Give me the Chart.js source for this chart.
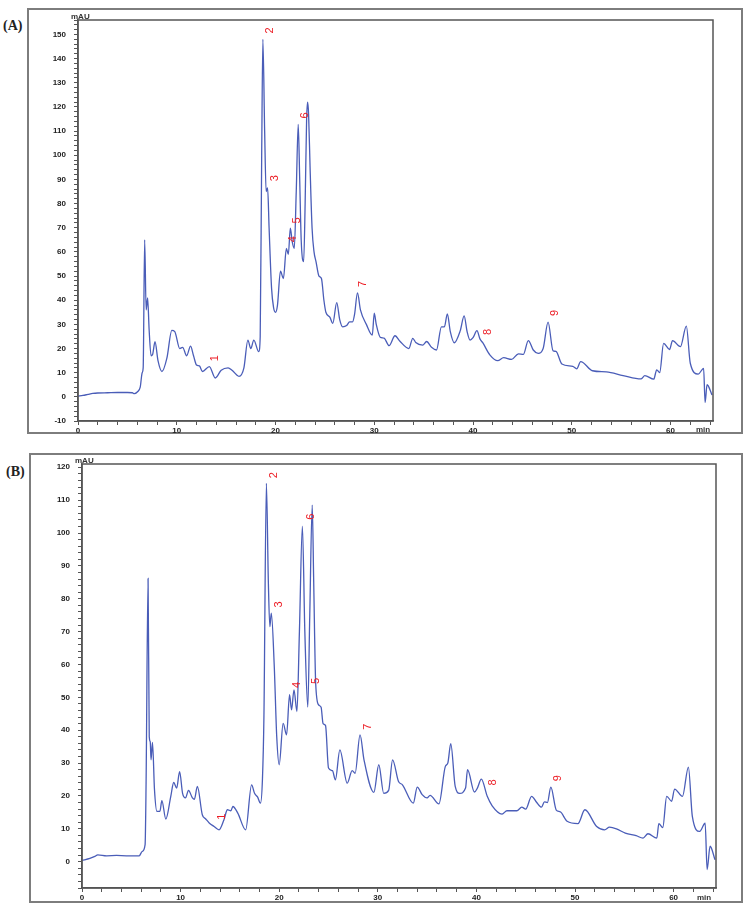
<!DOCTYPE html>
<html><head><meta charset="utf-8">
<script src="https://cdn.jsdelivr.net/npm/chart.js@4.4.1/dist/chart.umd.min.js"></script>
<style>
body{margin:0;background:#fff;width:750px;height:913px;position:relative;overflow:hidden;font-family:"Liberation Sans",Arial,sans-serif;}
.frame{position:absolute;border:2px solid #7d7d7d;box-sizing:border-box;}
.plabel{position:absolute;font-family:"Liberation Serif","DejaVu Serif",serif;font-weight:bold;font-size:14px;color:#222;line-height:14px;}
.unit{position:absolute;font-size:8px;font-weight:bold;color:#333;line-height:8px;}
canvas{position:absolute;left:0;}
</style></head>
<body>
<div class="frame" style="left:27px;top:8px;width:716px;height:426px"></div>
<div class="frame" style="left:29px;top:453px;width:714px;height:450px"></div>
<div class="plabel" style="left:3px;top:19px">(A)</div>
<div class="plabel" style="left:6px;top:465px">(B)</div>
<canvas id="cA" width="750" height="440" style="top:0px"></canvas>
<canvas id="cB" width="750" height="460" style="top:450px"></canvas>
<div class="unit" style="left:71px;top:13px">mAU</div>
<div class="unit" style="left:75px;top:457px">mAU</div>
<div class="unit" style="left:696px;top:426px">min</div>
<div class="unit" style="left:697px;top:894px">min</div>
<script>
// ---- Panel A data ----
const timeA = [0,0.5,1,1.5,2,3,4,5,5.5,5.7,6,6.3,6.5,6.6,6.75,6.9,7.05,7.2,7.4,7.55,7.8,8.1,8.5,9,9.5,9.8,10.3,10.6,11,11.4,11.7,12,12.3,12.6,13.3,13.9,14.5,15.2,15.6,16.3,16.8,17.2,17.5,17.8,18.3,18.45,18.6,18.72,18.9,19.05,19.2,19.35,19.6,19.8,20,20.2,20.5,20.8,21.1,21.3,21.5,21.7,21.9,22.1,22.3,22.45,22.6,22.85,23.0,23.15,23.25,23.35,23.5,23.7,23.9,24.1,24.4,24.65,24.9,25.1,25.5,25.8,26.2,26.5,26.8,27.2,27.5,27.8,28,28.3,28.6,29.2,29.8,30,30.2,30.6,31,31.5,32.1,32.6,33.5,33.9,34.2,34.9,35.3,35.8,36.3,36.8,37.1,37.4,37.7,38.1,38.7,39.1,39.4,39.7,40,40.4,40.7,41,41.7,42.5,43.1,43.9,44.6,45.1,45.6,46.1,46.6,47.1,47.6,48.1,48.4,49,50.1,50.5,50.9,52.1,53.5,55.2,57,57.4,58.3,58.6,58.9,59.3,59.9,60.2,61,61.6,62,62.8,63.35,63.5,63.7,64.2];
const valueA = [0.3,0.6,1.0,1.4,1.6,1.7,1.8,1.8,1.7,1.3,2.0,4.0,10,12,65,36,41,28,17,17.5,22.8,15,10.5,16,27.5,27,20,20.5,17,21,17,13.2,12.8,10.5,12.5,7.8,11,12,11,8.5,12,23.5,20,23.5,18.7,25,100,148,110,85,86.5,70,45,37,35,38,52,49,61.5,59,69.8,64,61.5,85,112.8,90,65,56,80,115,122,117,95,70,60,56,50,49,40,35,33,30.4,39,32,29,29.5,31,31,34,43,36,30,25.6,34.6,30,24.7,24.3,21.2,25.3,23,20,24.2,22.5,21.4,22.9,20.5,19.4,29,29,34.3,27,22.4,27.3,33.5,27,23.5,24.5,27.4,24,22.3,17.4,15,16.2,15.5,17.8,17.6,23.3,19.4,18,20,30.9,19.1,18.8,13.6,12.6,11.6,14.6,10.8,10.3,8.8,7.4,8.8,7.3,11.2,10,22.1,19.6,23.3,20.8,29.3,13.9,9.4,11.8,-2.3,5,0.8];

// ---- Panel B data ----
const timeB = [0,0.8,1.3,1.6,2.5,3.5,4.5,5.5,5.8,6.1,6.4,6.5,6.7,6.82,6.92,7.0,7.15,7.35,7.6,7.9,8.1,8.5,9.0,9.3,9.6,9.9,10.2,10.5,10.8,11.2,11.4,11.7,12.2,12.55,12.9,13.4,13.9,14.4,14.75,15.1,15.3,15.8,16.6,17.2,17.5,17.8,18.1,18.3,18.45,18.7,18.9,19.05,19.2,19.5,19.75,20.0,20.4,20.75,21.05,21.25,21.5,21.8,22.05,22.35,22.6,22.9,23.1,23.35,23.5,23.7,24.0,24.25,24.45,24.7,25.0,25.4,25.7,26.15,26.9,27.4,27.7,28.2,28.6,29.6,30.1,30.6,31.1,31.5,32.1,32.5,33.6,34.0,34.5,35.0,35.3,36.2,36.85,37.1,37.4,37.85,38.3,38.9,39.1,39.8,40.1,40.5,41.1,41.6,42.6,43.1,44.1,44.6,45.0,45.6,46.1,46.6,46.9,47.2,47.55,48.1,48.5,49.2,50.3,51.0,52.2,53.0,53.5,54.2,55.1,56.2,56.9,57.4,58.3,58.5,58.9,59.3,59.8,60.1,60.9,61.5,61.9,62.65,63.2,63.4,63.7,64.2];
const valueB = [0.4,1.0,1.6,2.1,1.8,1.9,1.8,1.8,1.8,3.1,5.2,24,86.2,38,36.5,31,36.3,22,15.3,15.3,18.6,13,19.8,24.1,22.4,27.4,20.8,19.4,21.7,19.4,19,22.9,14.3,13,11.8,10.7,9.7,12.8,15.8,15.5,16.8,14.8,9.7,23.4,20.8,19.7,17.8,25,44,115.1,85,71.5,75.6,59.4,38,29.5,42.1,38.6,50.8,46.2,52.3,45.7,70,102.1,70,47,75,108.5,85,54.3,47.7,47,42,41.4,28.5,27.7,24.9,34,23.9,27.7,26.9,38.6,31,21.1,29.5,20.8,21.7,31,24.4,23.4,17.8,22.7,20.4,19.4,20.2,17.6,29,30,35.9,22.9,20.8,22.4,28,21.2,22.4,25.1,19.9,17,14.5,15.5,15.5,16.6,16,19.9,18.1,16.6,18.2,18,22.7,15.7,15.2,12.3,11.6,15.8,10.7,9.7,10.5,10,8.7,7.9,7.2,8.5,7.2,11.6,10.4,19.9,18.4,22.1,19.9,28.8,13.8,9.2,11.7,-2.4,4.7,0.6];

// ---- Peak labels ----
const peakLabels = ['1','2','3','4','5','6','7','8','9'];
const peakTimeA  = [13.9,19.4,19.9,21.8,22.2,23.0,28.9,41.5,48.3];
const peakValueA = [16,151.7,90.5,65.3,73,116.5,46.7,26.9,34.7];
const peakTimeB  = [14.2,19.5,20.0,21.8,23.7,23.2,29.0,41.7,48.3];
const peakValueB = [13.7,117.6,78.3,53.8,55,105,41.1,24.1,25.4];

// ---- Axis tick ranges (labelled every 10, minor every 2) ----
const xTickRange  = [0, 64];
const yTickRangeA = [-10, 156];
const yTickRangeB = [-8, 120];

Chart.defaults.font.family = '"Liberation Sans", Arial, sans-serif';

function tickList(range) {
  const out = [];
  for (let v = range[0]; v <= range[1]; v += 2) out.push({value: v});
  return out;
}

const framePlugin = {
  id: 'frame',
  afterDraw(chart, args, opts) {
    const {ctx, chartArea: a, scales} = chart;
    ctx.save();
    ctx.strokeStyle = '#555';
    ctx.lineWidth = 1.5;
    ctx.strokeRect(a.left, a.top, a.right - a.left, a.bottom - a.top);
    ctx.fillStyle = '#ec1c24';
    ctx.font = '11px "Liberation Sans", Arial, sans-serif';
    ctx.textAlign = 'center';
    ctx.textBaseline = 'middle';
    for (let i = 0; i < opts.labels.length; i++) {
      const x = scales.x.getPixelForValue(opts.xs[i]);
      const y = scales.y.getPixelForValue(opts.ys[i]);
      ctx.save();
      ctx.translate(x, y);
      ctx.rotate(-Math.PI / 2);
      ctx.fillText(opts.labels[i], 0, 0);
      ctx.restore();
    }
    ctx.restore();
  }
};

function makeChart(id, xs, ys, ymin, ymax, xmax, yRange, yWidth, padding, lx, ly) {
  new Chart(document.getElementById(id), {
    type: 'line',
    data: {datasets: [{
      data: xs.map((x, i) => ({x: x, y: ys[i]})),
      borderColor: '#4a5db8', borderWidth: 1.3, pointRadius: 0,
      cubicInterpolationMode: 'monotone', fill: false
    }]},
    options: {
      responsive: false, animation: false, events: [],
      layout: {padding: padding},
      plugins: {legend: {display: false}, tooltip: {enabled: false},
        frame: {labels: peakLabels, xs: lx, ys: ly}},
      scales: {
        x: {
          type: 'linear', min: 0, max: xmax,
          afterFit(s) { s.height = 14; },
          afterBuildTicks(s) { s.ticks = tickList(xTickRange); },
          ticks: {autoSkip: false, maxRotation: 0, padding: 1,
            font: {size: 8, weight: 'bold'}, color: '#222',
            callback: v => (v % 10 === 0 ? String(v) : '')},
          grid: {drawOnChartArea: false, tickLength: 4, tickColor: '#555'},
          border: {color: '#555', width: 1.5}
        },
        y: {
          type: 'linear', min: ymin, max: ymax,
          afterFit(s) { s.width = yWidth; },
          afterBuildTicks(s) { s.ticks = tickList(yRange); },
          ticks: {autoSkip: false, padding: 8,
            font: {size: 8, weight: 'bold'}, color: '#222',
            callback: v => (v % 10 === 0 ? String(v) : '')},
          grid: {drawOnChartArea: false, tickLength: 4, tickColor: '#555'},
          border: {color: '#555', width: 1.5}
        }
      }
    },
    plugins: [framePlugin]
  });
}

makeChart('cA', timeA, valueA, -10, 156, 64.3, yTickRangeA, 78, {left: 0, top: 20, right: 37, bottom: 5}, peakTimeA, peakValueA);
makeChart('cB', timeB, valueB, -8, 121, 64.3, yTickRangeB, 82, {left: 0, top: 14, right: 34, bottom: 8}, peakTimeB, peakValueB);
</script>
</body></html>
